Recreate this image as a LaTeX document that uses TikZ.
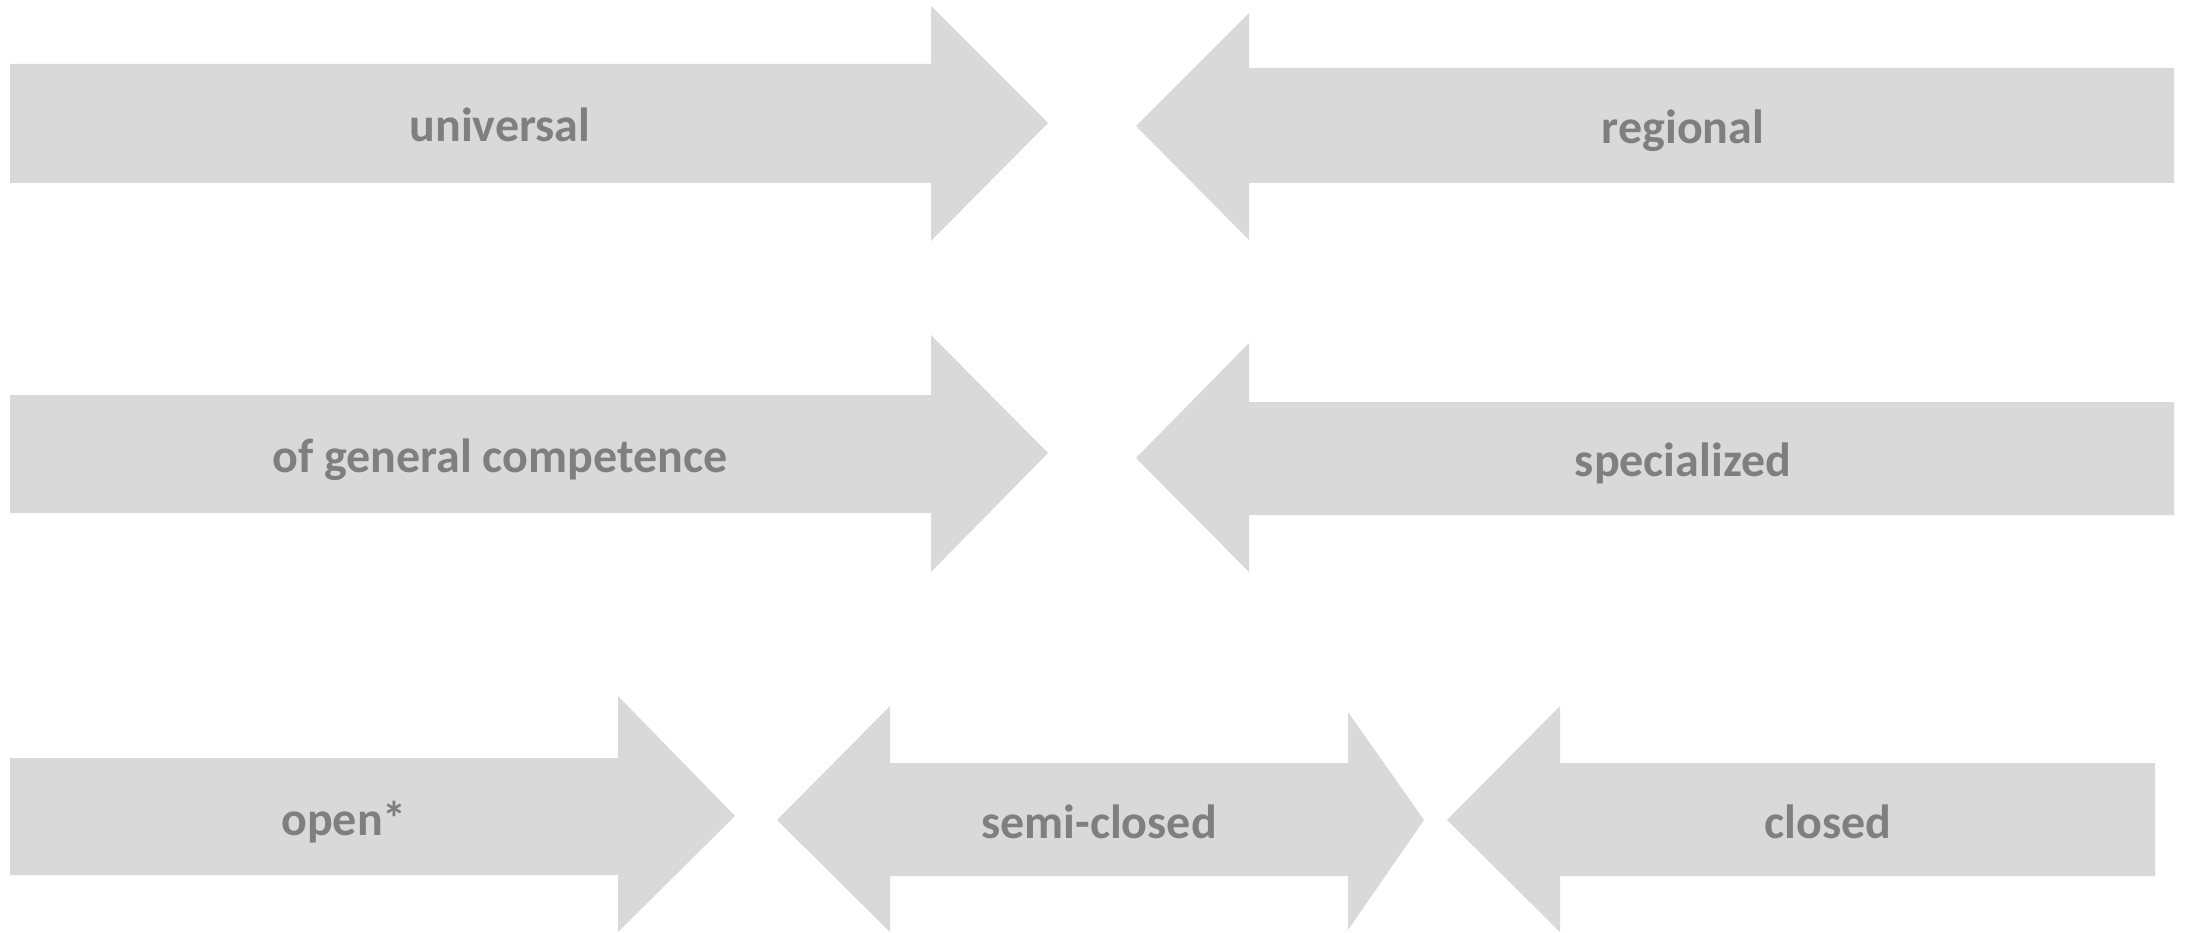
\documentclass[tikz,border=0pt]{standalone}
\usepackage{fontspec}
\setmainfont{Carlito}
\definecolor{arrowfill}{HTML}{D9D9D9}
\definecolor{labelgray}{HTML}{7F7F7F}
\tikzset{
  arrowshape/.style={fill=arrowfill, draw=none},
  lbl/.style={anchor=base, inner sep=0pt, text=labelgray, font=\fontsize{48}{57}\selectfont\bfseries}
}
\begin{document}
\begin{tikzpicture}[x=1pt,y=-1pt]
\useasboundingbox (0,0) rectangle (2188,933);
% row 1
\fill[arrowshape] (10,64) -- (931,64) -- (931,6) -- (1048,123) -- (931,241) -- (931,183) -- (10,183) -- cycle;
\fill[arrowshape] (2174,68) -- (1249,68) -- (1249,13) -- (1136,126) -- (1249,240) -- (1249,183) -- (2174,183) -- cycle;
\node[lbl] (universal) at (500,142) {universal};
\node[lbl] (regional) at (1683,144) {regional};
% row 2
\fill[arrowshape] (10,395) -- (931,395) -- (931,335) -- (1048,453) -- (931,572) -- (931,513) -- (10,513) -- cycle;
\fill[arrowshape] (2174,402) -- (1249,402) -- (1249,343) -- (1136,458) -- (1249,572) -- (1249,515) -- (2174,515) -- cycle;
\node[lbl] (general) at (500,472) {of general competence};
\node[lbl] (specialized) at (1683,476) {specialized};
% row 3
\fill[arrowshape] (10,758) -- (618,758) -- (618,696) -- (735,816) -- (618,932) -- (618,875) -- (10,875) -- cycle;
\fill[arrowshape] (777,820) -- (890,706) -- (890,763) -- (1348,763) -- (1348,712) -- (1424,820) -- (1348,930) -- (1348,876) -- (890,876) -- (890,932) -- cycle;
\fill[arrowshape] (2155,763) -- (1560,763) -- (1560,706) -- (1447,820) -- (1560,932) -- (1560,876) -- (2155,876) -- cycle;
\node[lbl] (open) at (344,835) {open*};
\node[lbl] (semiclosed) at (1099,838) {semi-closed};
\node[lbl] (closed) at (1828,838) {closed};
\end{tikzpicture}
\end{document}
